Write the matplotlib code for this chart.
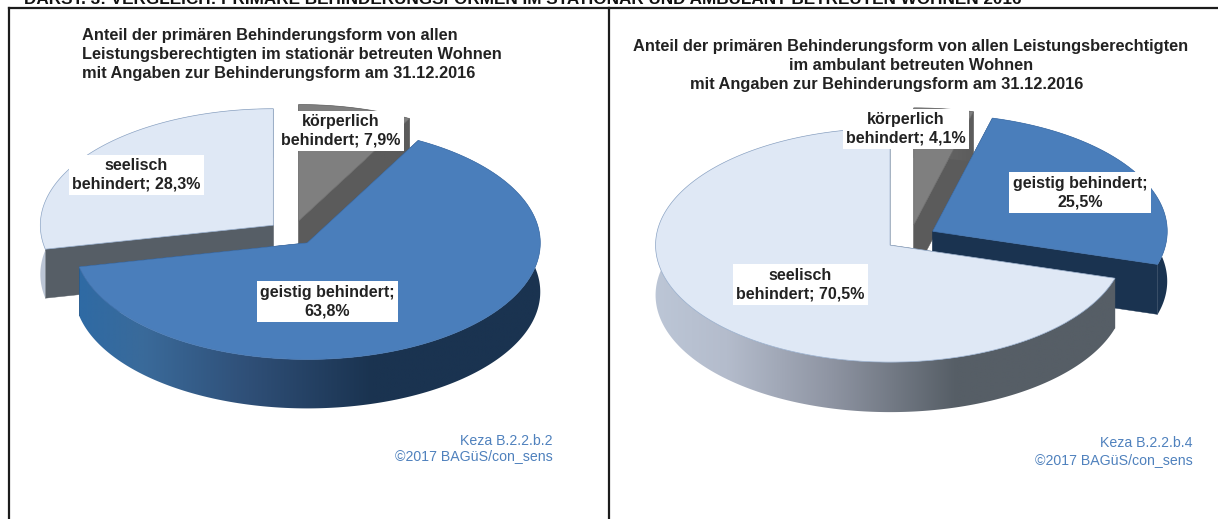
import numpy as np
import matplotlib
matplotlib.use("Agg")
import matplotlib.pyplot as plt
from matplotlib.patches import Polygon
from matplotlib.colors import to_rgb

W, H = 1218, 519
plt.rcParams['font.family'] = ['Liberation Sans', 'DejaVu Sans']

# ---- data ----
header = "DARST. 3: VERGLEICH: PRIMÄRE BEHINDERUNGSFORMEN IM STATIONÄR UND AMBULANT BETREUTEN WOHNEN 2016"
categories = ["körperlich", "geistig", "seelisch"]
values_stationaer = [7.9, 63.8, 28.3]
values_ambulant = [4.1, 25.5, 70.5]
labels_stationaer = ["körperlich\nbehindert; {}%", "geistig behindert;\n{}%", "seelisch\nbehindert; {}%"]
labels_ambulant = ["körperlich\nbehindert; {}%", "geistig behindert;\n{}%", "seelisch\nbehindert; {}%"]
title_stationaer = ["Anteil der primären Behinderungsform von allen",
                    "Leistungsberechtigten im stationär betreuten Wohnen",
                    "mit Angaben zur Behinderungsform am 31.12.2016"]
title_ambulant = ["Anteil der primären Behinderungsform von allen Leistungsberechtigten",
                  "im ambulant betreuten Wohnen",
                  "mit Angaben zur Behinderungsform am 31.12.2016"]
source_stationaer = ["Keza B.2.2.b.2", "©2017 BAGüS/con_sens"]
source_ambulant = ["Keza B.2.2.b.4", "©2017 BAGüS/con_sens"]

# ---- style ----
TOP = {"körperlich": "#7f7f7f", "geistig": "#4a7ebb", "seelisch": "#dfe8f5"}
EDGE = {"körperlich": "#6a6a6a", "geistig": "#4677b2", "seelisch": "#93aac9"}
CUT = {"körperlich": "#5b5b5b", "geistig": "#1a3350", "seelisch": "#565e66"}
RAMP_U = [-1.0, -0.70, -0.25, 0.28, 1.0]
RAMP = {"körperlich": ["#a0a0a0", "#909090", "#787878", "#5b5b5b", "#5b5b5b"],
        "geistig": ["#2e6aa5", "#3a6a9a", "#2f4f77", "#1a3350", "#1a3350"],
        "seelisch": ["#bcc6d6", "#b4bccc", "#8e94a2", "#565e66", "#565e66"]}
TXT = "#222222"
BLUE_TXT = "#4f81bd"
PAD = 6  # pixels the shading image overshoots its clip outline


def ramp_row(cat, rx, n=256):
    x = np.linspace(-rx - PAD, rx + PAD, n) / rx
    rgb = np.array([to_rgb(c) for c in RAMP[cat]])
    return np.column_stack([np.interp(x, RAMP_U, rgb[:, i]) for i in range(3)])[None, :, :]


def draw_pie(ax, values, center, explode, rx, ry, depth):
    """Exploded 3-D pie, clockwise from 12 o'clock, drawn in pixel-valued data axes."""
    cx, cy = center
    edges = np.concatenate([[0], np.cumsum(values)]) / np.sum(values) * 2 * np.pi
    slices = []
    for cat, a0, a1 in zip(categories, edges[:-1], edges[1:]):
        mid = (a0 + a1) / 2
        slices.append((cy - explode * np.cos(mid) * ry / rx, cat, a0, a1, cx + explode * np.sin(mid)))
    lims = ax.get_xlim(), ax.get_ylim()
    for z, (ay0, cat, a0, a1, ax0) in enumerate(sorted(slices, key=lambda s: s[0])):
        th = np.linspace(a0, a1, max(int((a1 - a0) * 90), 8))
        xs = ax0 + rx * np.sin(th)
        ys = ay0 - ry * np.cos(th)
        base = 1 + z
        # cut faces
        for xe, ye in ((xs[0], ys[0]), (xs[-1], ys[-1])):
            ax.fill([ax0, xe, xe, ax0], [ay0, ye, ye + depth, ay0 + depth],
                    color=CUT[cat], lw=0.3, zorder=base)
        # rim: horizontal shading clipped to the slice's outer wall
        wall = Polygon(np.column_stack([np.r_[xs, xs[::-1]], np.r_[ys, ys[::-1] + depth]]),
                       closed=True, transform=ax.transData, fc="none", ec="none")
        im = ax.imshow(ramp_row(cat, rx),
                       extent=(ax0 - rx - PAD, ax0 + rx + PAD, ay0 + ry + depth + PAD, ay0 - ry - PAD),
                       aspect="auto", interpolation="bilinear", zorder=base + 0.1)
        ax.add_patch(wall)
        im.set_clip_path(wall)
        # top surface
        ax.fill(np.r_[ax0, xs], np.r_[ay0, ys], facecolor=TOP[cat], edgecolor=EDGE[cat], lw=0.5,
                zorder=base + 0.2)
    ax.set_xlim(lims[0]); ax.set_ylim(lims[1])


def make_axes(x0, x1):
    ax = fig.add_axes([x0 / W, 0, (x1 - x0) / W, (H - FRAME_Y) / H])
    ax.set_xlim(x0, x1)
    ax.set_ylim(H, FRAME_Y)
    ax.set_xticks([]); ax.set_yticks([])
    for s in ("right", "bottom"):
        ax.spines[s].set_visible(False)
    for s in ("left", "top"):
        ax.spines[s].set_linewidth(1.6)
        ax.spines[s].set_color("#1c1c1c")
    ax.patch.set_alpha(0)
    return ax


def fmt(v):
    return f"{v:.1f}".replace(".", ",")


FRAME_Y = 8
fig = plt.figure(figsize=(W / 100, H / 100), dpi=100, facecolor="white")
fig.text(24 / W, 1 - 3.5 / H, header, fontsize=12.35, fontweight="bold", color="#111111", ha="left", va="baseline")

LABEL_FS = 11.55
TITLE_FS = 11.75
box = dict(boxstyle="square,pad=0.22", fc="white", ec="none")

panels = [
    dict(x=(9, 609), center=(292.5, 233), explode=24.7, rx=233, ry=116.5, depth=49, values=values_stationaer,
         labels=labels_stationaer, label_xy=[(340.5, 131), (327.5, 301.5), (136.5, 175)],
         title=title_stationaer, title_xy=[(82, 35.5, "left"), (82, 54.5, "left"), (82, 73.5, "left")],
         source=source_stationaer, source_xy=[(553, 441), (553, 456)]),
    dict(x=(609, W), center=(910.5, 237.5), explode=25.5, rx=234.5, ry=117, depth=50, values=values_ambulant,
         labels=labels_ambulant, label_xy=[(906, 129), (1080, 192.5), (800.5, 284.5)],
         title=title_ambulant, title_xy=[(911, 46.5, "center"), (911, 65.5, "center"), (690, 84.5, "left")],
         source=source_ambulant, source_xy=[(1193, 443), (1193, 460)]),
]

for p in panels:
    ax = make_axes(*p["x"])
    draw_pie(ax, p["values"], p["center"], p["explode"], p["rx"], p["ry"], p["depth"])
    for tpl, v, (x, y) in zip(p["labels"], p["values"], p["label_xy"]):
        ax.text(x, y, tpl.format(fmt(v)), ha="center", va="center", ma="center", fontsize=LABEL_FS,
                fontweight="bold", color=TXT, bbox=box, linespacing=1.26, zorder=8)
    for line, (x, y, ha) in zip(p["title"], p["title_xy"]):
        ax.text(x, y, line, ha=ha, va="center", fontsize=TITLE_FS, fontweight="bold", color=TXT, zorder=8)
    for line, (x, y) in zip(p["source"], p["source_xy"]):
        ax.text(x, y, line, ha="right", va="center", fontsize=10.2, color=BLUE_TXT, zorder=8)

fig.savefig("out.png", dpi=100, facecolor="white")
